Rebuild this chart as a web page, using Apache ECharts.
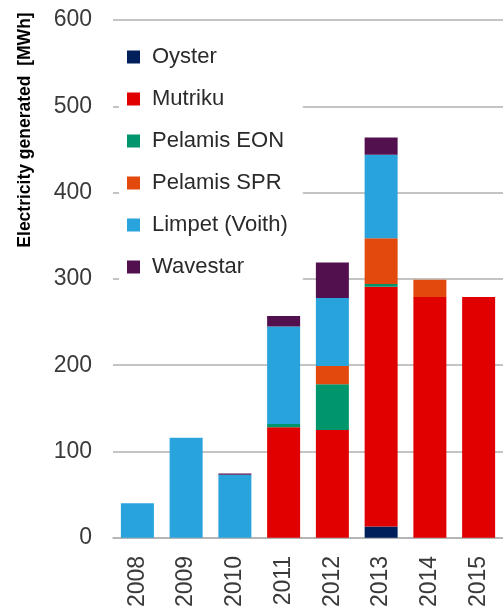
<!DOCTYPE html>
<html>
<head>
<meta charset="utf-8">
<script src="https://cdn.jsdelivr.net/npm/echarts@6/dist/echarts.min.js"></script>
<style>
  html, body { margin: 0; padding: 0; background: #fff; }
  #main { width: 503px; height: 610px; }
</style>
</head>
<body>
<div id="main"></div>
<script>
var years = ['2008', '2009', '2010', '2011', '2012', '2013', '2014', '2015'];

// MWh per device, stacked bottom to top
var oyster     = [0, 0, 0, 0, 0, 13, 0, 0];
var mutriku    = [0, 0, 0, 128, 125, 278, 279, 279];
var pelamisEon = [0, 0, 0, 4, 53, 3, 0, 0];
var pelamisSpr = [0, 0, 0, 0, 21, 53, 20, 0];
var limpet     = [40, 116, 73, 113, 79, 97, 0, 0];
var wavestar   = [0, 0, 1.5, 12, 41, 20, 0, 0];

var font = 'Liberation Sans';

function bar(name, data, color) {
  return {
    name: name,
    type: 'bar',
    stack: 'total',
    barWidth: 33,
    data: data,
    itemStyle: { color: color }
  };
}

var myChart = echarts.init(document.getElementById('main'));

var option = {
  animation: false,
  textStyle: { fontFamily: font },
  grid: {
    left: 113,
    top: 20,
    width: 394,
    bottom: 70
  },
  legend: {
    orient: 'vertical',
    left: 119,
    top: 37,
    padding: [9, 15, 9, 8],
    backgroundColor: '#fff',
    itemWidth: 13,
    itemHeight: 13,
    itemGap: 20,
    icon: 'rect',
    textStyle: {
      fontFamily: font,
      fontSize: 22,
      lineHeight: 22,
      color: '#2a2a2a',
      padding: [0, 0, 0, 7]
    },
    data: ['Oyster', 'Mutriku', 'Pelamis EON', 'Pelamis SPR', 'Limpet (Voith)', 'Wavestar']
  },
  graphic: [{
    type: 'text',
    x: 25,
    y: 130,
    rotation: Math.PI / 2,
    style: {
      text: 'Electricity generated  [MWh]',
      fontFamily: font,
      fontWeight: 'bold',
      fontSize: 17.5,
      fill: '#000',
      textAlign: 'center',
      textVerticalAlign: 'middle'
    }
  }],
  xAxis: {
    type: 'category',
    data: years,
    axisLine: { lineStyle: { color: '#b0b0b0', width: 1.5 } },
    axisTick: { show: false },
    axisLabel: {
      rotate: 90,
      margin: 18,
      fontSize: 23,
      color: '#3a3a3a',
      fontFamily: font
    }
  },
  yAxis: {
    type: 'value',
    min: 0,
    max: 600,
    interval: 100,
    axisLine: { show: false },
    axisTick: { show: false },
    axisLabel: {
      margin: 21,
      fontSize: 23,
      color: '#3a3a3a',
      fontFamily: font
    },
    splitLine: { lineStyle: { color: '#b0b0b0', width: 1.5 } }
  },
  series: [
    bar('Oyster', oyster, '#001f5b'),
    bar('Mutriku', mutriku, '#e10000'),
    bar('Pelamis EON', pelamisEon, '#00956a'),
    bar('Pelamis SPR', pelamisSpr, '#e3490c'),
    bar('Limpet (Voith)', limpet, '#29a3dc'),
    bar('Wavestar', wavestar, '#52104f')
  ]
};

myChart.setOption(option);
</script>
</body>
</html>
